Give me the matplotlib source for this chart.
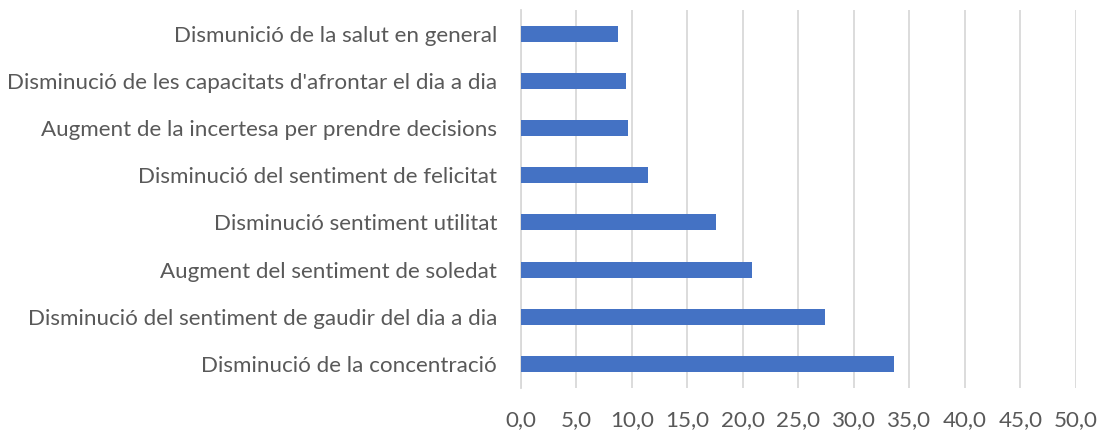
import matplotlib
matplotlib.use("Agg")
import matplotlib.pyplot as plt

categories = [
    "Dismunició de la salut en general",
    "Disminució de les capacitats d'afrontar el dia a dia",
    "Augment de la incertesa per prendre decisions",
    "Disminució del sentiment de felicitat",
    "Disminució sentiment utilitat",
    "Augment del sentiment de soledat",
    "Disminució del sentiment de gaudir del dia a dia",
    "Disminució de la concentració",
]
values = [8.8, 9.5, 9.7, 11.5, 17.6, 20.8, 27.4, 33.6]
xticks = [0, 5, 10, 15, 20, 25, 30, 35, 40, 45, 50]
xtick_labels = ["0,0", "5,0", "10,0", "15,0", "20,0", "25,0", "30,0", "35,0", "40,0", "45,0", "50,0"]

plt.rcParams['font.family'] = ['Lato', 'DejaVu Sans']

W, H = 1103, 432
fig = plt.figure(figsize=(W / 100, H / 100), dpi=100)
left, right = 520.7, 1075.7
top, bottom = 10, 387.5
ax = fig.add_axes([left / W, 1 - bottom / H, (right - left) / W, (bottom - top) / H])

ypos = list(range(len(categories)))
ax.barh(ypos, values, height=0.34, color="#4472C4", zorder=3)
ax.set_ylim(len(categories) - 0.5, -0.5)
ax.set_xlim(0, 50)
ax.set_yticks(ypos)
ax.set_yticklabels(categories, fontsize=16.1, color="#595959")
ax.set_xticks(xticks)
ax.set_xticklabels(xtick_labels, fontsize=16.1, color="#595959")
ax.tick_params(axis="both", length=0)
ax.tick_params(axis="y", pad=17)
ax.tick_params(axis="x", pad=16)
ax.grid(axis="x", color="#D9D9D9", linewidth=1.3, zorder=0)
for s in ["top", "right", "bottom"]:
    ax.spines[s].set_visible(False)
ax.spines["left"].set_color("#D9D9D9")
ax.spines["left"].set_linewidth(1.3)

fig.savefig("out.png", dpi=100)
